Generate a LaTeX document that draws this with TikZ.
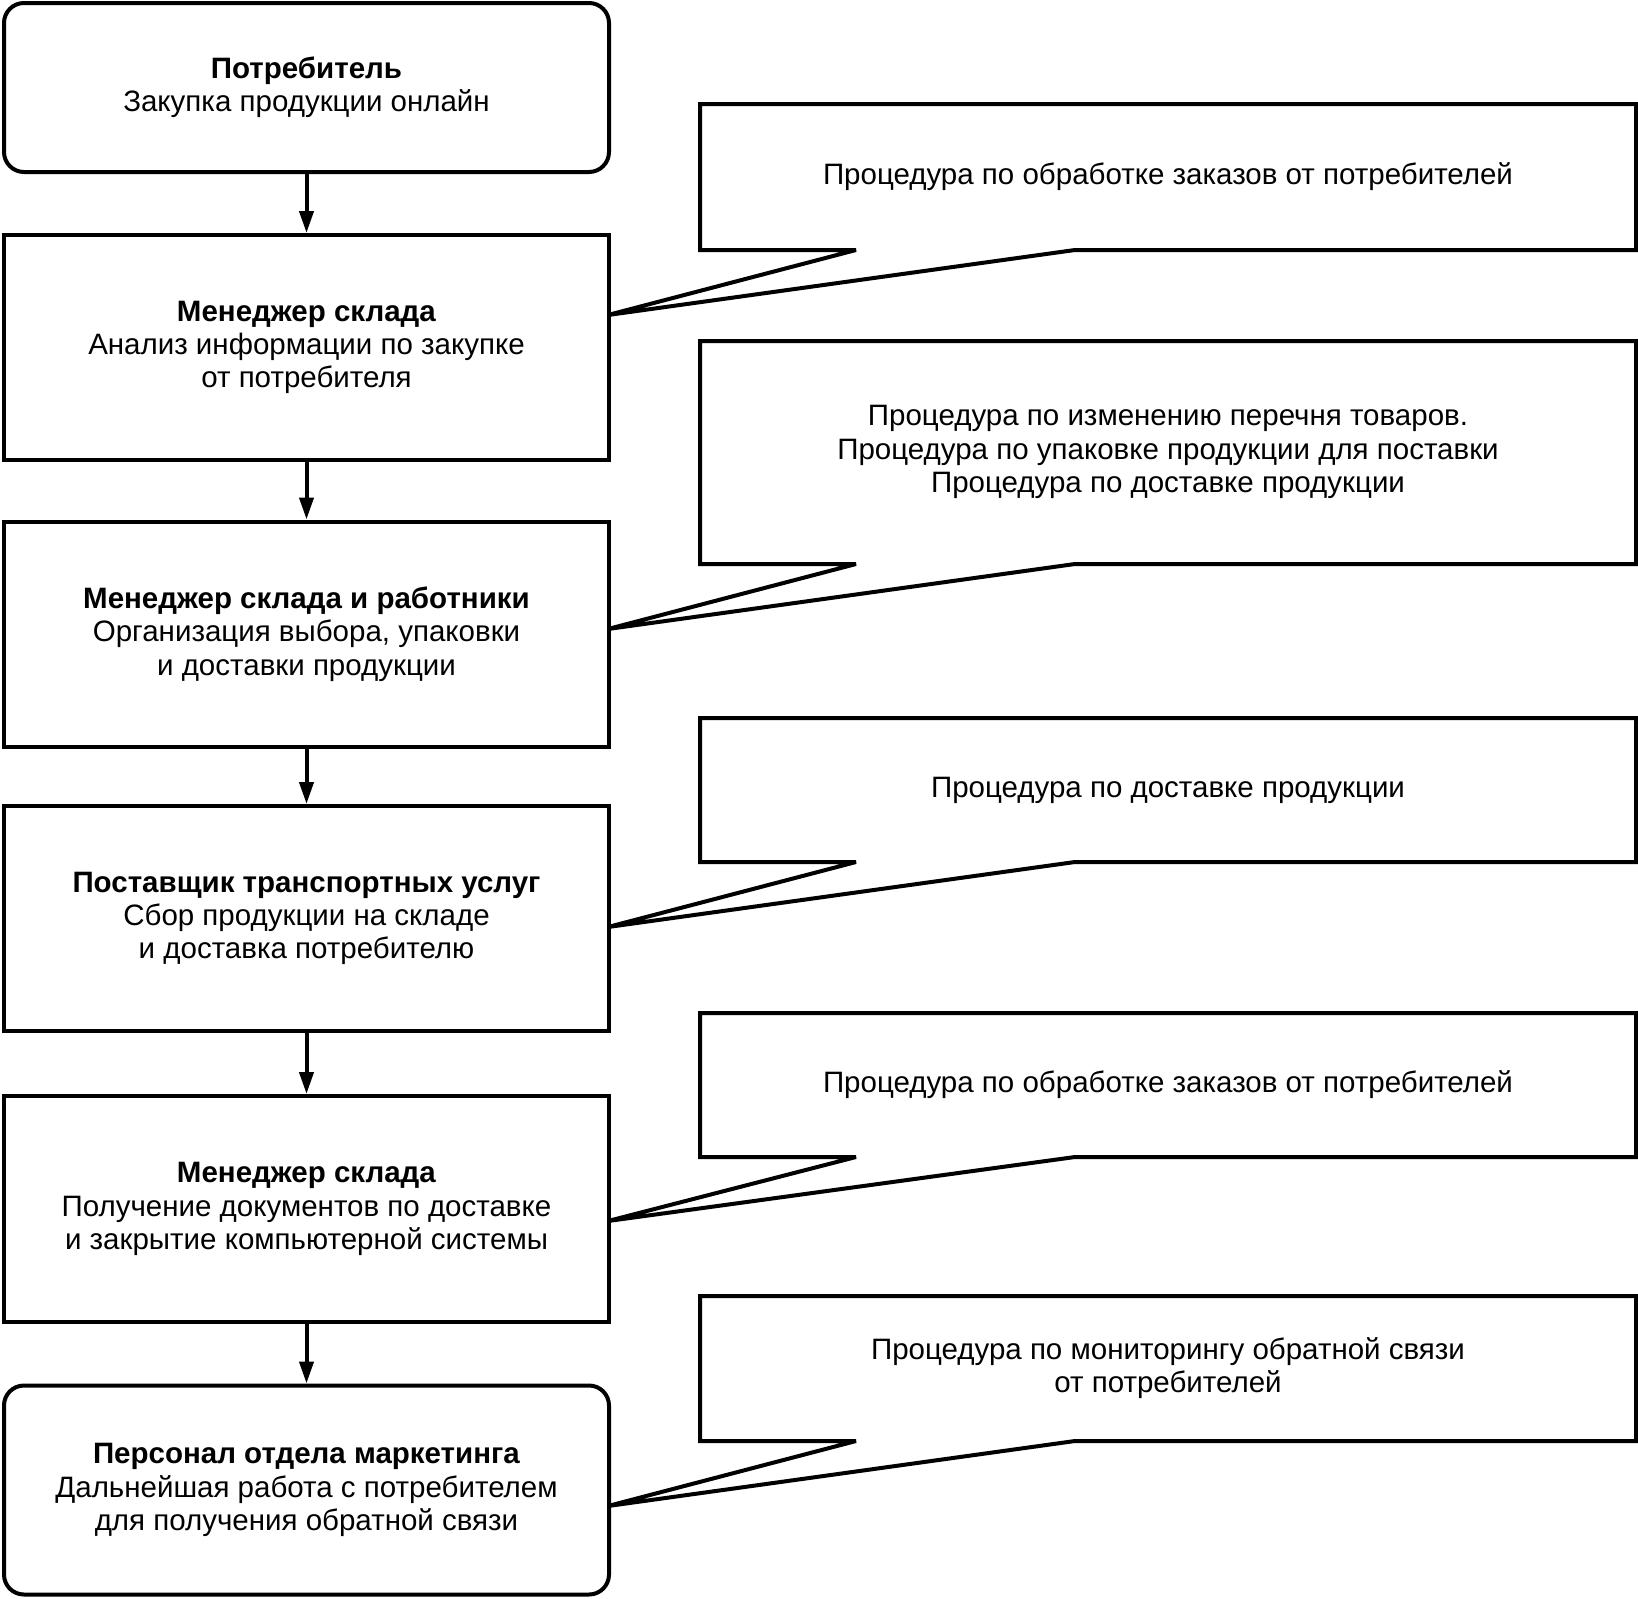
\documentclass[tikz,border=0pt]{standalone}
\usepackage{fontspec}
\setmainfont{Liberation Sans}
\usetikzlibrary{arrows.meta}
\begin{document}
\begin{tikzpicture}[x=1pt,y=-1pt,
  every node/.style={font=\fontsize{29.5}{33.4}\selectfont, align=center, inner sep=0pt},
  stagebox/.style={draw, line width=4pt, minimum width=605pt},
  roundbox/.style={stagebox, rounded corners=20pt},
  callout/.style={draw, line width=4pt, line join=miter, miter limit=4},
  flow/.style={line width=4pt, -{Triangle[length=22pt,width=14pt]}},
  lbl/.style={draw=none}]
\useasboundingbox (0,0) rectangle (1638,1598);
% left column
\node[roundbox, minimum height=169pt] (b1) at (306.5,87.5) {\textbf{Потребитель}\\Закупка продукции онлайн};
\node[stagebox, minimum height=225pt] (b2) at (306.5,347.5) {\textbf{Менеджер склада}\\Анализ информации по закупке\\от потребителя};
\node[stagebox, minimum height=225pt] (b3) at (306.5,634) {\textbf{Менеджер склада и работники}\\Организация выбора, упаковки\\и доставки продукции};
\node[stagebox, minimum height=225pt] (b4) at (306.5,918.5) {\textbf{Поставщик транспортных услуг}\\Сбор продукции на складе\\и доставка потребителю};
\node[stagebox, minimum height=226pt] (b5) at (306.5,1209) {\textbf{Менеджер склада}\\Получение документов по доставке\\и закрытие компьютерной системы};
\node[roundbox, minimum height=209pt] (b6) at (306.5,1490) {\textbf{Персонал отдела маркетинга}\\Дальнейшая работа с потребителем\\для получения обратной связи};
\draw[flow] (b1) -- (b2);
\draw[flow] (b2) -- (b3);
\draw[flow] (b3) -- (b4);
\draw[flow] (b4) -- (b5);
\draw[flow] (b5) -- (b6);
% callouts
\coordinate (t1) at (608,315);
\coordinate (t2) at (608,629);
\coordinate (t3) at (608,927);
\coordinate (t4) at (608,1221);
\coordinate (t5) at (608,1506);
\draw[callout] (700,104) -- (1636,104) -- (1636,250) -- (1075,250) -- (t1) -- (856,250) -- (700,250) -- cycle;
\node[lbl] (c1) at (1168,177) {Процедура по обработке заказов от потребителей};
\draw[callout] (700,341) -- (1636,341) -- (1636,564) -- (1075,564) -- (t2) -- (856,564) -- (700,564) -- cycle;
\node[lbl] (c2) at (1168,452) {Процедура по изменению перечня товаров.\\Процедура по упаковке продукции для поставки\\Процедура по доставке продукции};
\draw[callout] (700,718) -- (1636,718) -- (1636,862) -- (1075,862) -- (t3) -- (856,862) -- (700,862) -- cycle;
\node[lbl] (c3) at (1168,790) {Процедура по доставке продукции};
\draw[callout] (700,1013) -- (1636,1013) -- (1636,1157) -- (1075,1157) -- (t4) -- (856,1157) -- (700,1157) -- cycle;
\node[lbl] (c4) at (1168,1085) {Процедура по обработке заказов от потребителей};
\draw[callout] (700,1296) -- (1636,1296) -- (1636,1441) -- (1075,1441) -- (t5) -- (856,1441) -- (700,1441) -- cycle;
\node[lbl] (c5) at (1168,1368) {Процедура по мониторингу обратной связи\\от потребителей};
\end{tikzpicture}
\end{document}
